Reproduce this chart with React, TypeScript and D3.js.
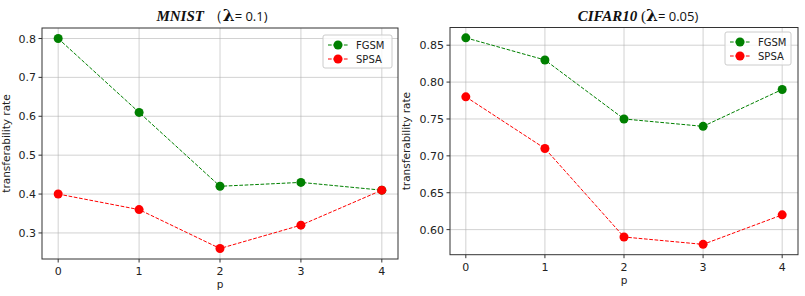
import React from "react";
import * as d3 from "d3";

const P = [0, 1, 2, 3, 4];
const MNIST_FGSM = [0.8, 0.61, 0.42, 0.43, 0.41];
const MNIST_SPSA = [0.4, 0.36, 0.26, 0.32, 0.41];
const CIFAR_FGSM = [0.86, 0.83, 0.75, 0.74, 0.79];
const CIFAR_SPSA = [0.78, 0.71, 0.59, 0.58, 0.62];
const MNIST_TICKS = [0.3, 0.4, 0.5, 0.6, 0.7, 0.8];
const CIFAR_TICKS = [0.6, 0.65, 0.7, 0.75, 0.8, 0.85];
const SERIES_NAMES = ["FGSM", "SPSA"];
const COLORS = ["#008000", "#ff0000"];

type PanelProps = {
  left: number; right: number; top: number; bottom: number;
  series: number[][]; ticks: number[]; fmt: string;
  titleMain: string; titleParen: string; titleVal: string; titleX: number;
  legendX: number; legendY: number; legendW: number; labelX: number;
};

function Panel(p: PanelProps) {
  const all = p.series.flat();
  const mn = d3.min(all)!, mx = d3.max(all)!;
  const pad = (mx - mn) * 0.05;
  const x = d3.scaleLinear().domain([-0.2, 4.2]).range([p.left, p.right]);
  const y = d3.scaleLinear().domain([mn - pad, mx + pad]).range([p.bottom, p.top]);
  const line = d3.line<number>().x((_, i) => x(P[i])).y((d) => y(d));
  const f = d3.format(p.fmt);
  const font = "DejaVu Sans, sans-serif";
  return (
    <g>
      {P.map((t) => (
        <line key={"gx" + t} x1={x(t)} x2={x(t)} y1={p.top} y2={p.bottom} stroke="#b0b0b0" strokeWidth={0.8} opacity={0.7} />
      ))}
      {p.ticks.map((t) => (
        <line key={"gy" + t} x1={p.left} x2={p.right} y1={y(t)} y2={y(t)} stroke="#b0b0b0" strokeWidth={0.8} opacity={0.7} />
      ))}
      {p.series.map((s, i) => (
        <g key={"s" + i}>
          <path d={line(s)!} fill="none" stroke={COLORS[i]} strokeWidth={1} strokeDasharray="3.7,1.6" />
          {s.map((v, j) => (
            <circle key={j} cx={x(P[j])} cy={y(v)} r={4.5} fill={COLORS[i]} />
          ))}
        </g>
      ))}
      <rect x={p.left} y={p.top} width={p.right - p.left} height={p.bottom - p.top} fill="none" stroke="#333" strokeWidth={1} />
      {P.map((t) => (
        <g key={"tx" + t}>
          <line x1={x(t)} x2={x(t)} y1={p.bottom} y2={p.bottom + 3.5} stroke="#333" />
          <text x={x(t)} y={p.bottom + 16} textAnchor="middle" fontFamily={font} fontSize={11} fill="#222">{t}</text>
        </g>
      ))}
      {p.ticks.map((t) => (
        <g key={"ty" + t}>
          <line x1={p.left - 3.5} x2={p.left} y1={y(t)} y2={y(t)} stroke="#333" />
          <text x={p.left - 6} y={y(t) + 4} textAnchor="end" fontFamily={font} fontSize={11} fill="#222">{f(t)}</text>
        </g>
      ))}
      <text x={(p.left + p.right) / 2} y={p.bottom + 29} textAnchor="middle" fontFamily={font} fontSize={10.5} fill="#222">p</text>
      <text transform={`translate(${p.labelX},${(p.top + p.bottom) / 2}) rotate(-90)`} textAnchor="middle" fontFamily={font} fontSize={10.5} fill="#222">transferability rate</text>
      <text x={p.titleX} y={21} textAnchor="middle" fontFamily="Liberation Serif, serif" fontSize={15} fill="#111">
        <tspan fontStyle="italic" fontWeight="bold">{p.titleMain}</tspan>
        <tspan>{p.titleParen}</tspan>
        <tspan fontWeight="bold" fontFamily="DejaVu Serif, serif" fontSize={17}>λ</tspan>
        <tspan fontFamily="Open Sans, sans-serif" fontSize={13}>{p.titleVal}</tspan>
      </text>
      <g transform={`translate(${p.legendX},${p.legendY})`}>
        <rect x={0} y={0} width={p.legendW} height={33} rx={2} fill="white" fillOpacity={0.8} stroke="#ccc" strokeWidth={1} />
        {SERIES_NAMES.map((n, i) => (
          <g key={n} transform={`translate(0,${10 + i * 14})`}>
            <line x1={5} x2={25} y1={0} y2={0} stroke={COLORS[i]} strokeWidth={1} strokeDasharray="3.7,1.6" />
            <circle cx={15} cy={0} r={4.5} fill={COLORS[i]} />
            <text x={33} y={3.6} fontFamily={font} fontSize={10} fill="#222">{n}</text>
          </g>
        ))}
      </g>
    </g>
  );
}

export default function App() {
  return (
    <svg width={805} height={296} style={{ position: "absolute", left: 0, top: 0, background: "white" }}>
      <rect width={805} height={296} fill="white" />
      <Panel left={42} right={398} top={28} bottom={259} series={[MNIST_FGSM, MNIST_SPSA]} ticks={MNIST_TICKS} fmt=".1f"
        titleMain="MNIST" titleParen=" （" titleVal="= 0.1)" titleX={212} legendX={323} legendY={35} legendW={69} labelX={10} />
      <Panel left={450} right={798} top={27.5} bottom={254.7} series={[CIFAR_FGSM, CIFAR_SPSA]} ticks={CIFAR_TICKS} fmt=".2f"
        titleMain="CIFAR10" titleParen=" (" titleVal="= 0.05)" titleX={638} legendX={725} legendY={32} legendW={66} labelX={410} />
    </svg>
  );
}
